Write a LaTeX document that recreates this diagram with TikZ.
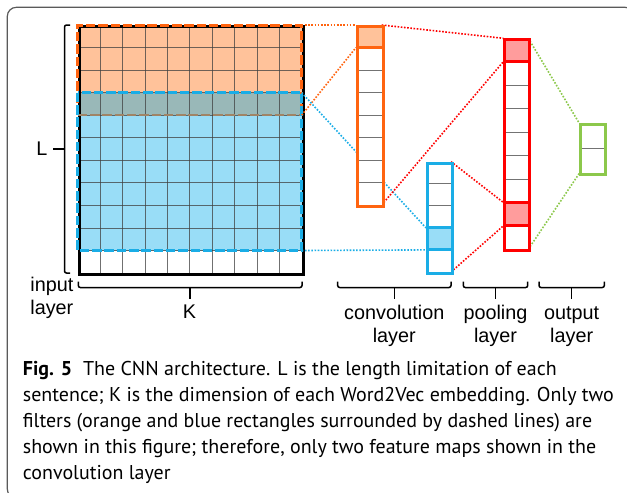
\documentclass[tikz,border=0pt]{standalone}
\usepackage{fontspec}
\setmainfont{Liberation Sans}
\newfontfamily\capfont{PT Sans}
\definecolor{cOr}{HTML}{FF6410}
\definecolor{cOrF}{HTML}{FFC29A}
\definecolor{cBl}{HTML}{1AADE6}
\definecolor{cBlF}{HTML}{99DDF7}
\definecolor{cOv}{HTML}{99B8B8}
\definecolor{cRd}{HTML}{FF0000}
\definecolor{cRdF}{HTML}{FF9C9C}
\definecolor{cGr}{HTML}{8CC84B}
\definecolor{cBrn}{HTML}{A08466}
\definecolor{cFrame}{HTML}{5A5A5A}
\newlength\capw
\begin{document}
\settowidth\capw{\capfont\fontsize{10pt}{12pt}\selectfont sentence; K is the dimension of each Word2Vec embedding. Only two}%
\pgfmathsetmacro\capsz{10*591/\capw}%
\begin{tikzpicture}[x=1pt,y=-1pt,
  gridline/.style={draw=black!75, draw opacity=0.75, line width=0.8pt},
  sepline/.style={draw=black!55, line width=0.9pt},
  colbox/.style={rectangle, inner sep=0pt, line width=3pt, minimum width=25pt},
  dots/.style={line width=1.6pt, dash pattern=on 1.6pt off 1.6pt},
  filterdash/.style={line width=3pt, dash pattern=on 9.5pt off 2.8pt},
  brace/.style={line width=1.5pt, rounded corners=2pt, black},
  lab/.style={font=\fontsize{19.8pt}{23.4pt}\selectfont, inner sep=0pt, align=center},
  captext/.style={font=\capfont\fontsize{\capsz pt}{26pt}\selectfont, inner sep=0pt, anchor=base west}]
\useasboundingbox (0,0) rectangle (627,493);
% frame
\draw[cFrame, line width=1.2pt, rounded corners=9pt] (7.3,7.3) rectangle (634,498);

% ---------- input grid ----------
\fill[cOrF] (77.7,25) rectangle (301.7,92.7);
\fill[cOv] (77.7,92.7) rectangle (301.7,115.2);
\fill[cBlF] (77.7,115.2) rectangle (301.7,250.5);
\foreach \i in {1,...,9} \draw[gridline] ({77.7+22.4*\i},25) -- ({77.7+22.4*\i},273);
\foreach \j in {1,...,10} \draw[gridline] (77.7,{25+22.545*\j}) -- (301.7,{25+22.545*\j});
\node[rectangle, draw=black, line width=3pt, inner sep=0pt, minimum width=224pt, minimum height=248pt, anchor=north west] (grid) at (77.7,25) {};
\draw[cOr, filterdash] (77.7,115.2) -- (77.7,25) -- (301.7,25) -- (301.7,115.2);
\draw[cBrn, filterdash, line width=2.4pt] (77.7,115.2) -- (301.7,115.2);
\draw[cBl, filterdash] (77.7,92.7) rectangle (301.7,250.5);
\coordinate (oTop) at (301.7,25);
\coordinate (oBot) at (301.7,115.2);
\coordinate (bTop) at (301.7,92.7);
\coordinate (bBot) at (301.7,250.5);

% ---------- connector end points ----------
\coordinate (cAtl) at (356,25);
\coordinate (cAbl) at (356,47.5);
\coordinate (cAtr) at (381.7,25);
\coordinate (cAbr) at (381.7,205);
\coordinate (cBfl) at (426,227.9);
\coordinate (cBgl) at (426,249.9);
\coordinate (cBtr) at (451,161.7);
\coordinate (cBbr) at (451,272);
\coordinate (pTl) at (503.3,38.3);
\coordinate (pT2) at (503.3,61.7);
\coordinate (pM1) at (503.3,202.4);
\coordinate (pM2) at (503.3,225.9);
\coordinate (pTr) at (528.3,38.3);
\coordinate (pBr) at (528.3,249.3);
\coordinate (oTl) at (579.3,123.3);
\coordinate (oBl) at (579.3,173.3);

% ---------- dotted connectors ----------
\draw[cOr, dots] (oTop) -- (cAtl);
\draw[cOr, dots] (oBot) -- (cAbl);
\draw[cBl, dots] (bTop) -- (cBfl);
\draw[cBl, dots] (bBot) -- (cBgl);
\draw[cRd, dots] (cAtr) -- (pTl);
\draw[cRd, dots] (cAbr) -- (pT2);
\draw[cRd, dots] (cBtr) -- (pM1);
\draw[cRd, dots] (cBbr) -- (pM2);
\draw[cGr, dots] (pTr) -- (oTl);
\draw[cGr, dots] (pBr) -- (oBl);

% ---------- convolution: orange feature map ----------
\fill[white] (356,25) rectangle (381.7,205);
\fill[cOrF] (356,25) rectangle (381.7,47.5);
\foreach \j in {2,...,7} \draw[sepline] (356,{25+22.5*\j}) -- (381.7,{25+22.5*\j});
\draw[cOr, line width=3pt] (356,47.5) -- (381.7,47.5);
\node[colbox, draw=cOr, minimum width=25.7pt, minimum height=180pt, anchor=north west] (convA) at (356,25) {};

% ---------- convolution: blue feature map ----------
\fill[white] (426,161.7) rectangle (451,272);
\fill[cBlF] (426,227.9) rectangle (451,249.9);
\foreach \j in {1,2} \draw[sepline] (426,{161.7+22.06*\j}) -- (451,{161.7+22.06*\j});
\draw[cBl, line width=3pt] (426,227.9) -- (451,227.9);
\draw[cBl, line width=3pt] (426,249.9) -- (451,249.9);
\node[colbox, draw=cBl, minimum height=110.3pt, anchor=north west] (convB) at (426,161.7) {};

% ---------- pooling ----------
\fill[white] (503.3,38.3) rectangle (528.3,249.3);
\fill[cRdF] (503.3,38.3) rectangle (528.3,61.7);
\fill[cRdF] (503.3,202.4) rectangle (528.3,225.9);
\foreach \j in {2,...,6} \draw[sepline] (503.3,{38.3+23.444*\j}) -- (528.3,{38.3+23.444*\j});
\draw[cRd, line width=3pt] (503.3,61.7) -- (528.3,61.7);
\draw[cRd, line width=3pt] (503.3,202.4) -- (528.3,202.4);
\draw[cRd, line width=3pt] (503.3,225.9) -- (528.3,225.9);
\node[colbox, draw=cRd, minimum height=211pt, anchor=north west] (pool) at (503.3,38.3) {};

% ---------- output ----------
\fill[white] (579.3,123.3) rectangle (604.3,173.3);
\draw[sepline] (579.3,148.3) -- (604.3,148.3);
\node[colbox, draw=cGr, minimum height=50pt, anchor=north west] (outl) at (579.3,123.3) {};

% ---------- braces ----------
\draw[brace] (70,25) -- (64.5,25) -- (64.5,273) -- (70,273);
\draw[brace] (64.5,149) -- (53,149);
\node[lab, anchor=base] (Llab) at (42,155.5) {L};

\draw[brace] (78.3,281.5) -- (78.3,287.5) -- (302,287.5) -- (302,281.5);
\draw[brace] (190,287.5) -- (190,298.5);
\node[lab, anchor=base] (Klab) at (189.5,318.3) {K};
\node[lab, anchor=base east, align=right, font=\fontsize{19.8pt}{23.5pt}\selectfont] (inlab) at (73.5,314.5) {input\\layer};

\draw[brace] (337.7,281.5) -- (337.7,287.5) -- (451,287.5) -- (451,281.5);
\draw[brace] (394.3,287.5) -- (394.3,298.5);
\node[lab, anchor=base] (convlab) at (394.3,342.7) {convolution\\layer};

\draw[brace] (463.3,281.5) -- (463.3,287.5) -- (527.7,287.5) -- (527.7,281.5);
\draw[brace] (495.5,287.5) -- (495.5,298.5);
\node[lab, anchor=base] (poollab) at (495.5,342.7) {pooling\\layer};

\draw[brace] (539,281.5) -- (539,287.5) -- (604.3,287.5) -- (604.3,281.5);
\draw[brace] (571.7,287.5) -- (571.7,298.5);
\node[lab, anchor=base] (outlab) at (571.7,342.7) {output\\layer};

% ---------- caption ----------
\node[captext] (cap1) at (22.7,375.5) {\textbf{Fig. 5}\hspace{0.55em}The CNN architecture. L is the length limitation of each};
\node[captext] (cap2) at (22.7,401.5) {sentence; K is the dimension of each Word2Vec embedding. Only two};
\node[captext] (cap3) at (22.7,427.5) {filters (orange and blue rectangles surrounded by dashed lines) are};
\node[captext] (cap4) at (22.7,453.5) {shown in this figure; therefore, only two feature maps shown in the};
\node[captext] (cap5) at (22.7,479.5) {convolution layer};
\end{tikzpicture}
\end{document}
